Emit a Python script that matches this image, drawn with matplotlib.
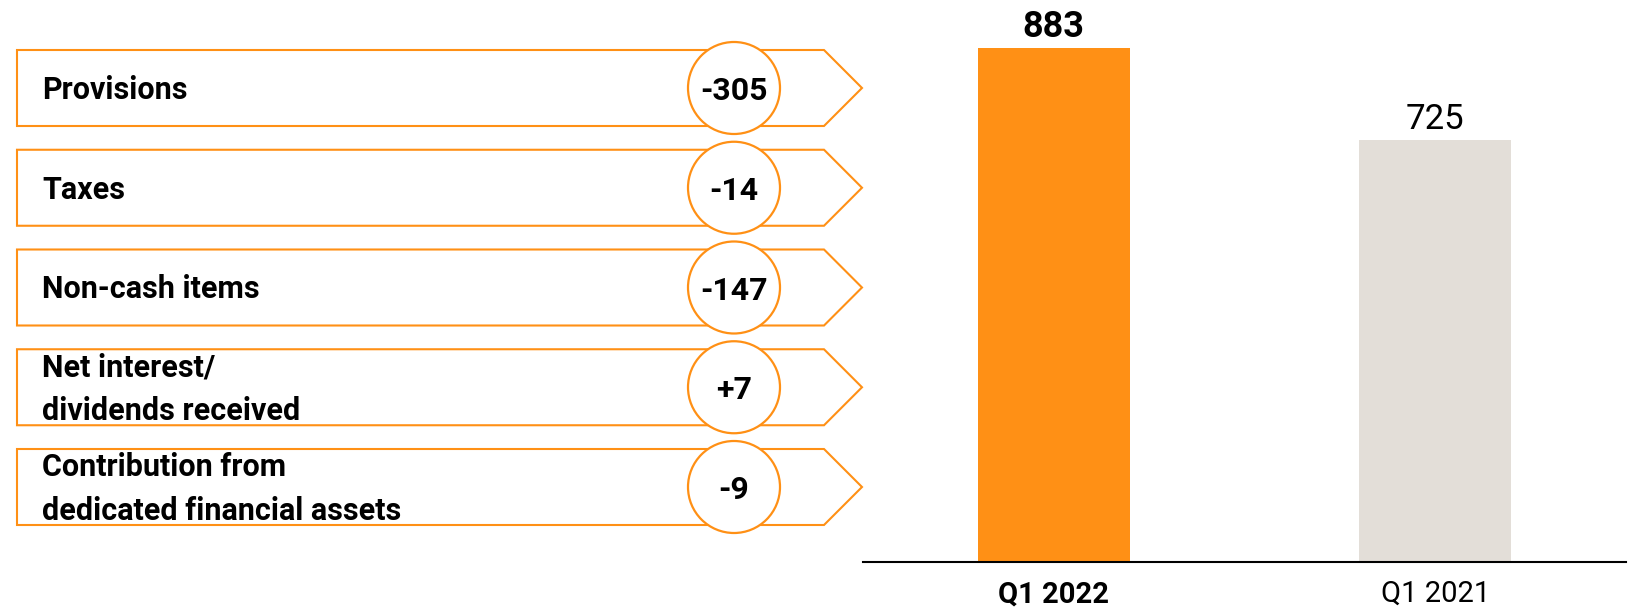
import matplotlib
matplotlib.use("Agg")
import matplotlib.pyplot as plt
from matplotlib.patches import Polygon, Circle

# ---- data ----
item_labels = ["Provisions", "Taxes", "Non-cash items",
               "Net interest/\ndividends received",
               "Contribution from\ndedicated financial assets"]
item_values = ["-305", "-14", "-147", "+7", "-9"]
periods = ["Q1 2022", "Q1 2021"]
period_values = [883, 725]

ORANGE = "#FF9015"
GRAY = "#E3DED8"
FONT = "Roboto"

W, H = 1635, 609
fig = plt.figure(figsize=(W / 100, H / 100), dpi=100)

# ---- left panel (pixel coordinates) ----
ov = fig.add_axes([0, 0, 1, 1])
ov.set_xlim(0, W)
ov.set_ylim(H, 0)
ov.axis("off")

box_left, box_right, tip_x = 17, 824, 862
box_h = 76
pitch = 99.75
circ_x, circ_r = 734, 46
for i, (lab, val) in enumerate(zip(item_labels, item_values)):
    top = 50 + pitch * i
    bot = top + box_h
    mid = (top + bot) / 2
    poly = Polygon([(box_left, top), (box_right, top), (tip_x, mid),
                    (box_right, bot), (box_left, bot)], closed=True,
                   facecolor="white", edgecolor=ORANGE, linewidth=1.5,
                   joinstyle="miter")
    ov.add_patch(poly)
    circ = Circle((circ_x, mid), circ_r, facecolor="white", edgecolor=ORANGE,
                  linewidth=1.6, zorder=3)
    ov.add_patch(circ)
    ov.text(42, mid + 2, lab, ha="left", va="center", fontsize=22,
            fontweight="bold", family=FONT, linespacing=1.55, color="black")
    ov.text(circ_x, mid + 3, val, ha="center", va="center", fontsize=23,
            fontweight="bold", family=FONT, color="black", zorder=4)

# ---- bar chart ----
ax = fig.add_axes([863 / W, (H - 562) / H, (1626 - 863) / W, 562 / H])
ax.set_xlim(-0.5, 1.5)
ax.set_ylim(0, 562 / 0.582)
xs = list(range(len(periods)))
ax.bar(xs, period_values, width=0.398, color=[ORANGE, GRAY])
for x, v, w, fs in zip(xs, period_values, ["bold", "normal"], [26, 25]):
    ax.annotate(str(v), (x, v), xytext=(0, 8), textcoords="offset points",
                ha="center", va="baseline", fontsize=fs, fontweight=w,
                family=FONT, color="black", annotation_clip=False)
for s in ["top", "left", "right"]:
    ax.spines[s].set_visible(False)
ax.spines["bottom"].set_linewidth(1.5)
ax.spines["bottom"].set_color("black")
ax.set_yticks([])
ax.set_xticks(xs, periods)
ax.tick_params(axis="x", length=0, pad=13)
for t, w in zip(ax.get_xticklabels(), ["bold", "normal"]):
    t.set_fontweight(w)
    t.set_fontsize(21)
    t.set_family(FONT)
ax.patch.set_alpha(0)

fig.savefig("out.png", dpi=100)
